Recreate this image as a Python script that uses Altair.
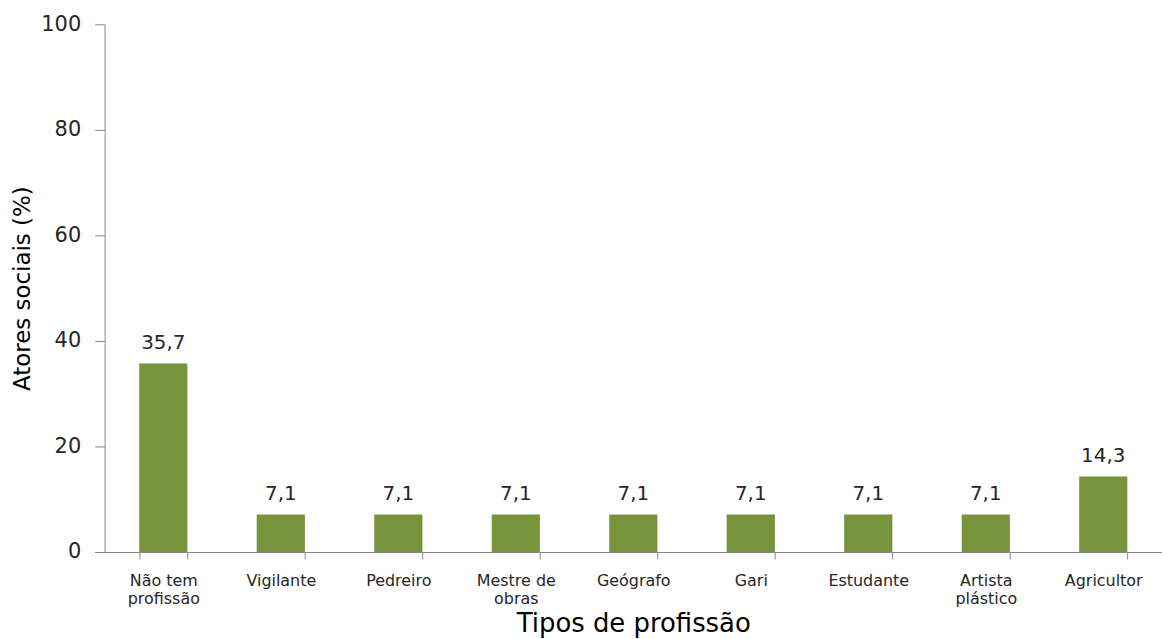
import altair as alt
import pandas as pd

categories = ["Não tem|profissão", "Vigilante", "Pedreiro", "Mestre de|obras",
              "Geógrafo", "Gari", "Estudante", "Artista|plástico", "Agricultor"]
values = [35.7, 7.1, 7.1, 7.1, 7.1, 7.1, 7.1, 7.1, 14.3]
y_ticks = [0, 20, 40, 60, 80, 100]

df = pd.DataFrame({"cat": categories, "v": values})

FONT = "DejaVu Sans"
AXIS_COLOR = "#868686"
TEXT_COLOR = "#262626"

x_enc = alt.X(
    "cat:N",
    sort=categories,
    scale=alt.Scale(paddingInner=0.59, paddingOuter=0.295),
    axis=alt.Axis(
        title="Tipos de profissão",
        labelExpr="split(datum.label, '|')",
        labelAngle=0,
        labelFont=FONT,
        labelFontSize=16,
        labelColor=TEXT_COLOR,
        labelLineHeight=18,
        labelPadding=14,
        labelBaseline="top",
        tickBand="extent",
        tickSize=7,
        tickColor=AXIS_COLOR,
        domainColor=AXIS_COLOR,
        titleFont=FONT,
        titleFontSize=26,
        titleFontWeight="normal",
        titleColor="#000000",
        titlePadding=4,
        grid=False,
    ),
)

y_enc = alt.Y(
    "v:Q",
    scale=alt.Scale(domain=[0, 100]),
    axis=alt.Axis(
        title="Atores sociais (%)",
        values=y_ticks,
        labelFont=FONT,
        labelFontSize=21,
        labelColor=TEXT_COLOR,
        labelPadding=14,
        tickSize=10,
        tickColor=AXIS_COLOR,
        domainColor=AXIS_COLOR,
        titleFont=FONT,
        titleFontSize=23,
        titleFontWeight="normal",
        titleColor="#000000",
        titlePadding=6,
        grid=False,
    ),
)

base = alt.Chart(df).encode(x=x_enc, y=y_enc)

bars = base.mark_bar(color="#77933C")

labels = base.transform_calculate(
    lbl="replace(format(datum.v, '.1f'), '.', ',')"
).mark_text(
    baseline="bottom", dy=-11, font=FONT, fontSize=20, color=TEXT_COLOR
).encode(text="lbl:N")

chart = (bars + labels).properties(
    width=1062,
    height=530,
    background="white",
    view=alt.ViewBackground(strokeWidth=0, strokeOpacity=0),
    autosize=alt.AutoSizeParams(type="none"),
    padding={"left": 97, "top": 15, "right": 0, "bottom": 86},
).configure_view(strokeWidth=0, strokeOpacity=0).configure_axis(grid=False)

chart.save("out.html", embed_options={"renderer": "svg", "actions": False})
